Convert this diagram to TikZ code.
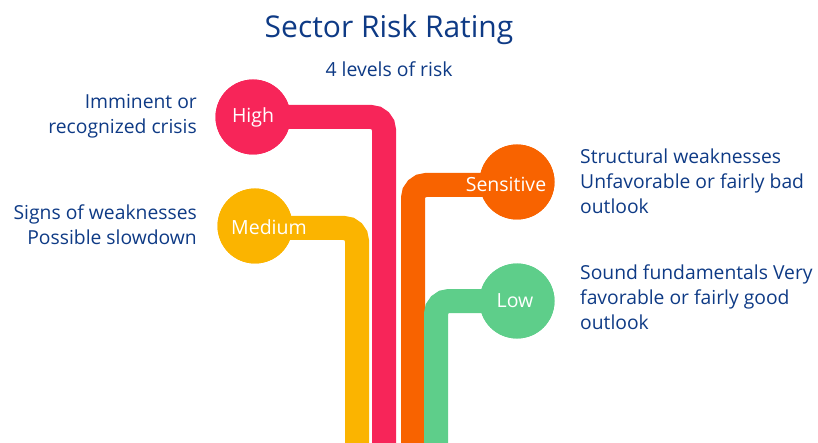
\documentclass[tikz,border=0pt]{standalone}
\usepackage{fontspec}
\setmainfont{Open Sans}
\usepackage{xcolor}
\usepackage{tikz}
\usetikzlibrary{positioning,calc}
\definecolor{navy}{HTML}{0E3A85}
\definecolor{highc}{HTML}{F72559}
\definecolor{medc}{HTML}{FBB400}
\definecolor{sensc}{HTML}{F86300}
\definecolor{lowc}{HTML}{5ECE8A}

\begin{document}
\begin{tikzpicture}[
        x=1pt, y=-1pt,
        dot/.style={circle, minimum size=75pt, inner sep=0pt},
        bar/.style={line width=24pt, rounded corners=13pt},
        lbl/.style={text=white, font=\fontsize{19.5}{20}\selectfont},
        desc/.style={text=navy, font=\fontsize{19.3}{25}\selectfont, inner sep=0pt}
    ]
        \useasboundingbox (0,0) rectangle (818,443);
        \node[text=navy, font=\fontsize{30}{34}\selectfont] (title) at (389,30) {Sector Risk Rating};
        \node[text=navy, font=\fontsize{19.4}{20}\selectfont] (sub) at (389,69) {4 levels of risk};

        \coordinate (highend) at (384,450);
        \coordinate (medend) at (357,450);
        \coordinate (sensend) at (413,450);
        \coordinate (lowend) at (436,450);

        \node[dot, fill=highc] (high) at (253,117) {};
        \node[dot, fill=medc] (med) at (255,226) {};
        \node[dot, fill=sensc] (sens) at (517,182) {};
        \node[dot, fill=lowc] (low) at (517,301) {};

        \draw[bar, highc] (high.center) -| (highend);
        \draw[bar, medc] ($(med.center)+(0,2)$) -| (medend);
        \draw[bar, sensc] ($(sens.center)+(0,3)$) -| (sensend);
        \draw[bar, lowc] (low.center) -| (lowend);

        \fill[highc] (high) circle (37.5);
        \fill[medc] (med) circle (37.5);
        \fill[sensc] (sens) circle (37.5);
        \fill[lowc] (low) circle (37.5);

        \node[lbl] at (high) {High};
        \node[lbl, xshift=14pt, yshift=-1pt] at (med) {Medium};
        \node[lbl, xshift=-11pt, yshift=-2pt] at (sens) {Sensitive};
        \node[lbl, xshift=-2pt] at (low) {Low};

        \node[desc, anchor=east, align=right] (hightxt) at (197,116) {Imminent or\\recognized crisis};
        \node[desc, anchor=east, align=right] (medtxt) at (197,225) {Signs of weaknesses\\Possible slowdown};
        \node[desc, anchor=west, align=left] (senstxt) at (580,181) {Structural weaknesses\\Unfavorable or fairly bad\\outlook};
        \node[desc, anchor=west, align=left] (lowtxt) at (580,297) {Sound fundamentals Very\\favorable or fairly good\\outlook};
    \end{tikzpicture}
\end{document}
